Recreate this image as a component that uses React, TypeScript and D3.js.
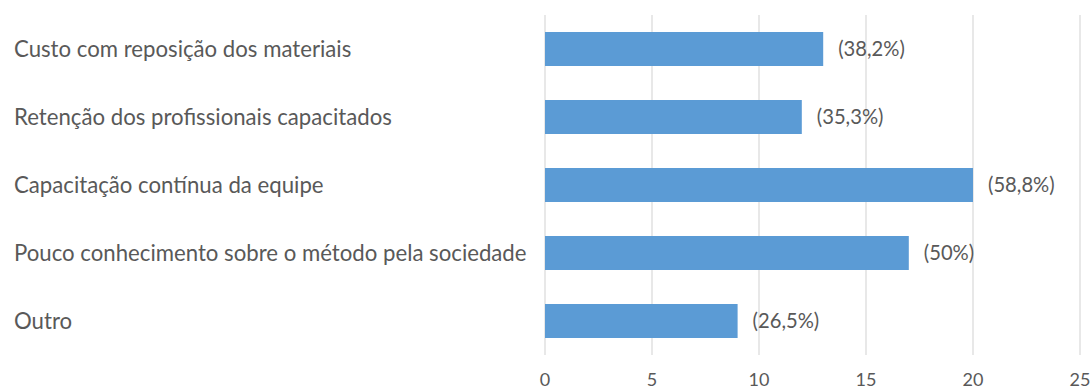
import React from "react";
import * as d3 from "d3";

const categories = [
  "Custo com reposição dos materiais",
  "Retenção dos profissionais capacitados",
  "Capacitação contínua da equipe",
  "Pouco conhecimento sobre o método pela sociedade",
  "Outro",
];
const values = [13, 12, 20, 17, 9];
const valueLabels = ["(38,2%)", "(35,3%)", "(58,8%)", "(50%)", "(26,5%)"];
const xTicks = [0, 5, 10, 15, 20, 25];

const W = 1092;
const H = 392;
const left = 545;
const right = 1080;
const top = 15;
const bottom = 355;
const font = "Lato, 'Open Sans', sans-serif";

export default function App() {
  const x = d3.scaleLinear().domain([0, 25]).range([left, right]);
  const y = d3.scaleBand<string>().domain(categories).range([top, bottom]).paddingInner(0.5).paddingOuter(0.25);
  return (
    <svg width={W} height={H} style={{ position: "absolute", left: 0, top: 0, background: "#fff" }}>
      {xTicks.map((t) => (
        <g key={t}>
          <line x1={x(t)} x2={x(t)} y1={top} y2={bottom} stroke="#d9d9d9" strokeWidth={1.2} />
          <text x={x(t)} y={380} dy="0.35em" textAnchor="middle" fontFamily={font} fontSize={18} fill="#595959">
            {t}
          </text>
        </g>
      ))}
      {categories.map((c, i) => {
        const yc = (y(c) as number) + y.bandwidth() / 2;
        return (
          <g key={c}>
            <rect x={x(0)} y={y(c)} width={x(values[i]) - x(0)} height={y.bandwidth()} fill="#5B9BD5" />
            <text x={14} y={yc} dy="0.35em" fontFamily={font} fontSize={22.2} fill="#595959">
              {c}
            </text>
            <text x={x(values[i]) + 15} y={yc} dy="0.35em" fontFamily={font} fontSize={20.2} fill="#595959">
              {valueLabels[i]}
            </text>
          </g>
        );
      })}
    </svg>
  );
}
